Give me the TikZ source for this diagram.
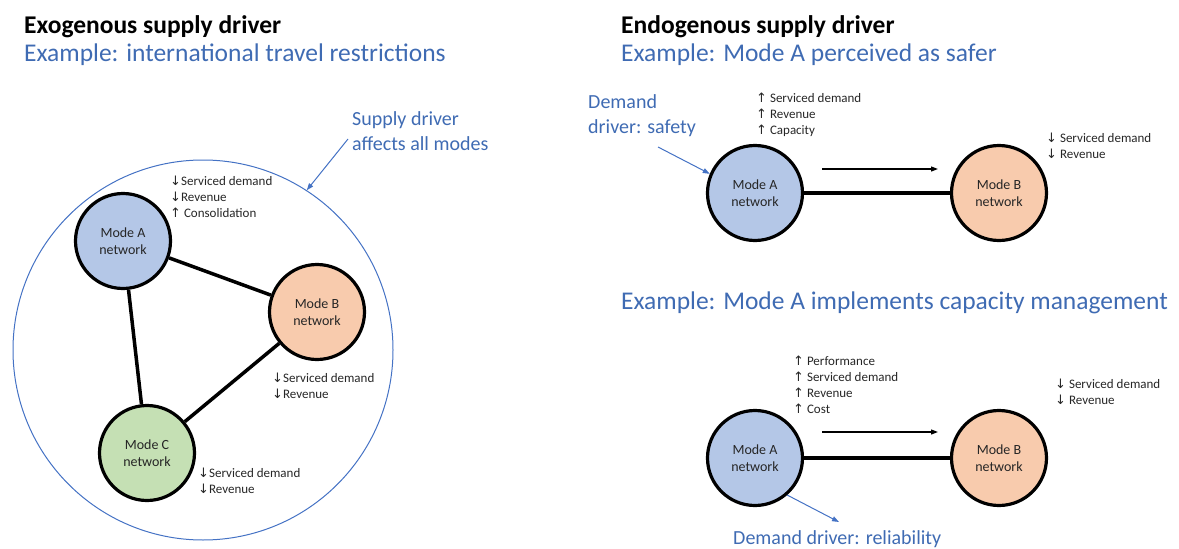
\documentclass[tikz,border=0pt]{standalone}
\usepackage{fontspec}
\setmainfont{Carlito}
\newfontfamily\arrfont{DejaVu Sans}
\usetikzlibrary{arrows.meta}
\definecolor{accblue}{HTML}{4472C4}
\definecolor{txtblue}{HTML}{3F6BB3}
\definecolor{fillA}{HTML}{B4C7E7}
\definecolor{fillB}{HTML}{F8CBAD}
\definecolor{fillC}{HTML}{C5E0B4}
\newcommand\uparr{{\arrfont\fontsize{13}{16}\selectfont ↑}}
\newcommand\dnarr{{\arrfont\fontsize{13}{16}\selectfont ↓}}
\tikzset{
  modenode/.style={circle, draw=black, line width=3.2pt, minimum size=95pt, inner sep=0pt, align=center, font=\fontsize{14}{17}\selectfont, text=black!85},
  link/.style={line width=3.5pt, draw=black},
  effect/.style={anchor=north west, inner sep=0pt, align=left, font=\fontsize{13}{16}\selectfont, text=black!85},
  heading/.style={anchor=west, inner sep=0pt, font=\bfseries\fontsize{25.5}{30}\selectfont, text=black},
  example/.style={anchor=west, inner sep=0pt, font=\fontsize{25.5}{30}\selectfont, text=txtblue},
  driver/.style={inner sep=0pt, align=left, font=\fontsize{20}{25}\selectfont, text=txtblue},
  bluearrow/.style={draw=accblue, line width=1pt, -{Triangle[length=7pt,width=5pt]}},
  flowarrow/.style={draw=black, line width=1.2pt, -{Triangle[length=7pt,width=5pt]}}
}
\begin{document}
\begin{tikzpicture}[x=1pt,y=-1pt]
\useasboundingbox (0,0) rectangle (1179,549);
% ---------- left panel ----------
\node[heading] (t1) at (24,27) {Exogenous supply driver};
\node[example] (e1) at (24,55) {Example: international travel restrictions};
\node[circle, draw=accblue, line width=1pt, minimum size=380pt, inner sep=0pt] (big) at (203,350) {};
\node[driver, anchor=north west] (sd) at (352,111) {Supply driver\\affects all modes};
\coordinate (sdstart) at (348,139);
\draw[bluearrow] (sdstart) -- (big.57);
\node[modenode, fill=fillA] (A) at (123,241) {Mode A\\network};
\node[modenode, fill=fillB] (B) at (317,312) {Mode B\\network};
\node[modenode, fill=fillC] (C) at (147,453) {Mode C\\network};
\draw[link] (A) -- (B);
\draw[link] (A) -- (C);
\draw[link] (B) -- (C);
\node[effect] (Aeff) at (170,176) {\dnarr Serviced demand\\\dnarr Revenue\\\uparr{} Consolidation};
\node[effect] (Beff) at (272,373) {\dnarr Serviced demand\\\dnarr Revenue};
\node[effect] (Ceff) at (198,468) {\dnarr Serviced demand\\\dnarr Revenue};
% ---------- right top ----------
\node[heading] (t2) at (621,27) {Endogenous supply driver};
\node[example] (e2) at (621,55) {Example: Mode A perceived as safer};
\node[driver, anchor=north west] (ds) at (588,94) {Demand\\driver: safety};
\node[modenode, fill=fillA] (A1) at (755,193) {Mode A\\network};
\node[modenode, fill=fillB] (B1) at (999,193) {Mode B\\network};
\draw[link] (A1) -- (B1);
\coordinate (dsstart) at (658,147);
\draw[bluearrow] (dsstart) -- (A1.157);
\coordinate (f1s) at (822,169);
\coordinate (f1e) at (938,169);
\draw[flowarrow] (f1s) -- (f1e);
\node[effect] (A1eff) at (756,93) {\uparr{} Serviced demand\\\uparr{} Revenue\\\uparr{} Capacity};
\node[effect] (B1eff) at (1046,133) {\dnarr{} Serviced demand\\\dnarr{} Revenue};
% ---------- right bottom ----------
\node[example] (e3) at (621,303) {Example: Mode A implements capacity management};
\node[modenode, fill=fillA] (A2) at (755,458) {Mode A\\network};
\node[modenode, fill=fillB] (B2) at (999,458) {Mode B\\network};
\draw[link] (A2) -- (B2);
\coordinate (f2s) at (822,432);
\coordinate (f2e) at (938,432);
\draw[flowarrow] (f2s) -- (f2e);
\node[effect] (A2eff) at (793,356) {\uparr{} Performance\\\uparr{} Serviced demand\\\uparr{} Revenue\\\uparr{} Cost};
\node[effect] (B2eff) at (1055,379) {\dnarr{} Serviced demand\\\dnarr{} Revenue};
\node[driver, anchor=west] (dr) at (733,539) {Demand driver: reliability};
\coordinate (drend) at (839,522);
\draw[bluearrow] (A2.-49) -- (drend);
\end{tikzpicture}
\end{document}
